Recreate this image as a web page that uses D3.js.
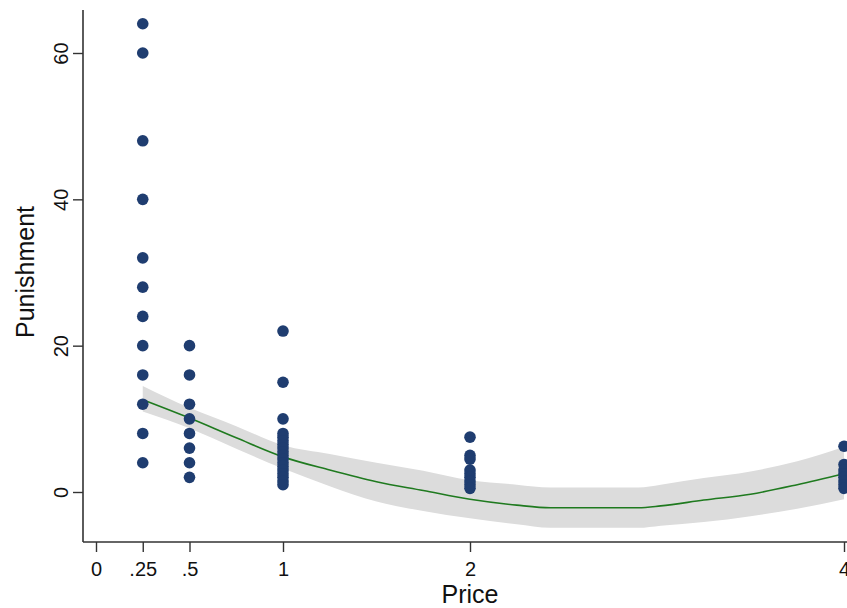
<!DOCTYPE html>
<html>
<head>
<meta charset="utf-8">
<script src="https://cdn.jsdelivr.net/npm/d3@7"></script>
<style>
	body { margin: 0; background: #fff; }
	svg text { font-family: "Liberation Sans", Arial, sans-serif; fill: #111; }
</style>
</head>
<body>
<svg id="chart" width="847" height="608"></svg>
<script>
// observed punishment values, one list per price level
var prices = [0.25, 0.5, 1, 2, 4];
var punish025 = [64, 60, 48, 40, 32, 28, 24, 20, 16, 12, 8, 4];
var punish05 = [20, 16, 12, 10, 8, 6, 4, 2];
var punish1 = [22, 15, 10, 8, 7.5, 7, 6.5, 6, 5.5, 5, 4.5, 4, 3.5, 3, 2.5, 2, 1.5, 1];
var punish2 = [7.5, 5, 4.5, 3, 2.5, 2, 1.5, 1, 0.5];
var punish4 = [6.25, 3.75, 3, 2.5, 2, 1.5, 1, 0.5];

// fitted curve and confidence band
var fitPrice = [0.25, 0.5, 0.75, 1, 1.25, 1.5, 1.75, 2, 2.25, 2.43, 2.9, 3.02, 3.25, 3.5, 3.75, 4];
var fitValue = [12.6, 10.1, 7.4, 4.8, 3.0, 1.4, 0.2, -1.0, -1.8, -2.15, -2.15, -1.9, -1.1, -0.3, 1.0, 2.5];
var fitLower = [11.0, 8.7, 5.9, 3.2, 0.8, -1.3, -2.6, -3.6, -4.4, -4.9, -4.9, -4.6, -4.1, -3.3, -2.3, -1.0];
var fitUpper = [14.5, 11.5, 9.0, 6.4, 5.2, 4.0, 2.9, 1.6, 1.0, 0.6, 0.6, 1.0, 1.9, 2.8, 4.2, 6.2];

var xTicks = [0, 0.25, 0.5, 1, 2, 4];
var xTickLabels = ["0", ".25", ".5", "1", "2", "4"];
var yTicks = [0, 20, 40, 60];

var svg = d3.select("#chart");

var x = d3.scaleLinear().domain([0, 4]).range([96, 844]);
var y = d3.scaleLinear().domain([0, 60]).range([492, 53]);

var left = 83, bottom = 542;

var groups = [punish025, punish05, punish1, punish2, punish4];
var points = [];
groups.forEach(function (vals, i) {
	vals.forEach(function (v) { points.push({ p: prices[i], v: v }); });
});

var band = fitPrice.map(function (p, i) {
	return { p: p, lo: fitLower[i], hi: fitUpper[i], v: fitValue[i] };
});

svg.append("path")
	.datum(band)
	.attr("fill", "#dcdcdc")
	.attr("d", d3.area()
		.x(function (d) { return x(d.p); })
		.y0(function (d) { return y(d.lo); })
		.y1(function (d) { return y(d.hi); })
		.curve(d3.curveMonotoneX));

svg.append("path")
	.datum(band)
	.attr("fill", "none")
	.attr("stroke", "#1f7a1f")
	.attr("stroke-width", 1.6)
	.attr("d", d3.line()
		.x(function (d) { return x(d.p); })
		.y(function (d) { return y(d.v); })
		.curve(d3.curveMonotoneX));

svg.append("g")
	.selectAll("circle")
	.data(points)
	.enter()
	.append("circle")
		.attr("cx", function (d) { return x(d.p); })
		.attr("cy", function (d) { return y(d.v); })
		.attr("r", 5.8)
		.attr("fill", "#1f3d70");

// x axis
var xAxis = svg.append("g")
	.attr("transform", "translate(0," + bottom + ")")
	.call(d3.axisBottom(x)
		.tickValues(xTicks)
		.tickFormat(function (d, i) { return xTickLabels[i]; })
		.tickSize(10)
		.tickPadding(10));
xAxis.select(".domain").remove();
xAxis.append("line")
	.attr("x1", left).attr("x2", 847)
	.attr("stroke", "#333").attr("stroke-width", 1.6);
xAxis.selectAll(".tick line").attr("stroke", "#333").attr("stroke-width", 1.4);
xAxis.selectAll(".tick text")
	.attr("font-size", 20)
	.attr("fill", "#111")
	.attr("font-family", "Liberation Sans, Arial, sans-serif");

// y axis
var yAxis = svg.append("g")
	.attr("transform", "translate(" + left + ",0)")
	.call(d3.axisLeft(y)
		.tickValues(yTicks)
		.tickSize(10)
		.tickPadding(0));
yAxis.select(".domain").remove();
yAxis.append("line")
	.attr("y1", 10).attr("y2", bottom)
	.attr("stroke", "#333").attr("stroke-width", 1.6);
yAxis.selectAll(".tick line").attr("stroke", "#333").attr("stroke-width", 1.4);
yAxis.selectAll(".tick text")
	.attr("font-size", 20)
	.attr("fill", "#111")
	.attr("font-family", "Liberation Sans, Arial, sans-serif")
	.attr("text-anchor", "middle")
	.attr("x", 0)
	.attr("dy", 0)
	.attr("transform", "translate(-15,0) rotate(-90)");

// axis titles
svg.append("text")
	.attr("x", 470)
	.attr("y", 603)
	.attr("text-anchor", "middle")
	.attr("font-size", 25)
	.text("Price");

svg.append("text")
	.attr("transform", "translate(34,272) rotate(-90)")
	.attr("text-anchor", "middle")
	.attr("font-size", 25)
	.text("Punishment");
</script>
</body>
</html>
